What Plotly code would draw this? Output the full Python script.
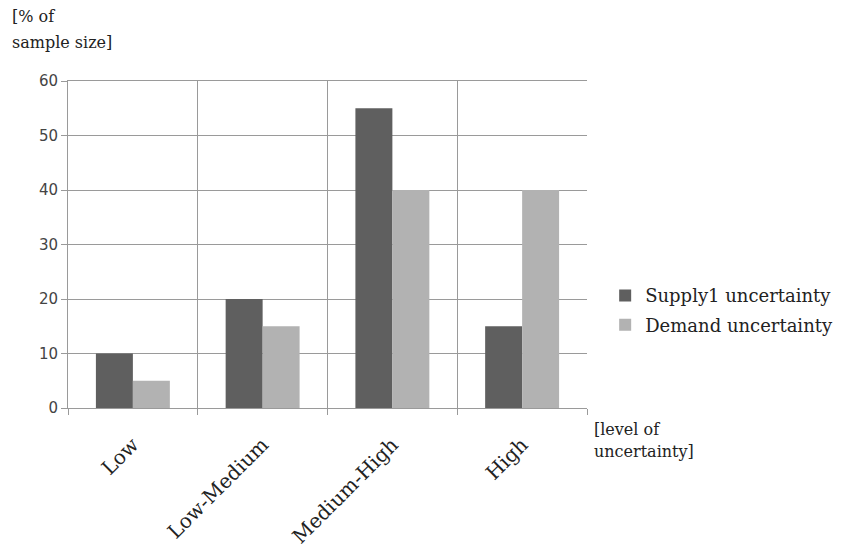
import plotly.graph_objects as go

categories = ["Low", "Low-Medium", "Medium-High", "High"]
supply = [10, 20, 55, 15]
demand = [5, 15, 40, 40]
y_ticks = [0, 10, 20, 30, 40, 50, 60]

fig = go.Figure()
fig.add_trace(go.Bar(x=categories, y=supply, name="Supply1 uncertainty",
                     marker=dict(color="#5f5f5f", line=dict(width=0)), legendgroup="a"))
fig.add_trace(go.Bar(x=categories, y=demand, name="Demand uncertainty",
                     marker=dict(color="#b2b2b2", line=dict(width=0)), legendgroup="b"))

fig.update_layout(
    width=845, height=547,
    margin=dict(l=60, r=266, t=73, b=147, autoexpand=False),
    plot_bgcolor="white", paper_bgcolor="white",
    barmode="group", bargap=0.43, bargroupgap=0,
    showlegend=True,
    legend=dict(x=1.035, y=0.40, xanchor="left", yanchor="top",
                font=dict(family="DejaVu Serif", size=18, color="#222"),
                tracegroupgap=3, bgcolor="rgba(0,0,0,0)"),
    font=dict(family="DejaVu Serif", color="#222"),
)
fig.update_xaxes(
    type="category", tickson="boundaries", showgrid=True, gridcolor="#9a9a9a", gridwidth=1,
    showline=True, linecolor="#9a9a9a", linewidth=1, mirror=True, automargin=False,
    ticks="outside", ticklen=6, tickcolor="#9a9a9a", ticklabelstandoff=16,
    tickangle=-45, tickfont=dict(family="DejaVu Serif", size=20, color="#222"),
)
fig.update_yaxes(
    range=[0, 60], tickvals=y_ticks, showgrid=True, gridcolor="#9a9a9a", gridwidth=1,
    showline=True, linecolor="#9a9a9a", linewidth=1, zeroline=False, automargin=False,
    ticks="outside", ticklen=6, tickcolor="#9a9a9a",
    tickfont=dict(family="DejaVu Sans", size=15, color="#444"),
)
ann_font = dict(family="DejaVu Serif", size=16, color="#222")
for txt, x, y in [("[% of", -0.112, 1.196), ("sample size]", -0.112, 1.117),
                  ("[level of", 1.01, -0.066), ("uncertainty]", 1.01, -0.133)]:
    fig.add_annotation(text=txt, xref="paper", yref="paper", x=x, y=y,
                       xanchor="left", yanchor="middle", showarrow=False, align="left",
                       font=ann_font)
fig.write_html("out.html")
